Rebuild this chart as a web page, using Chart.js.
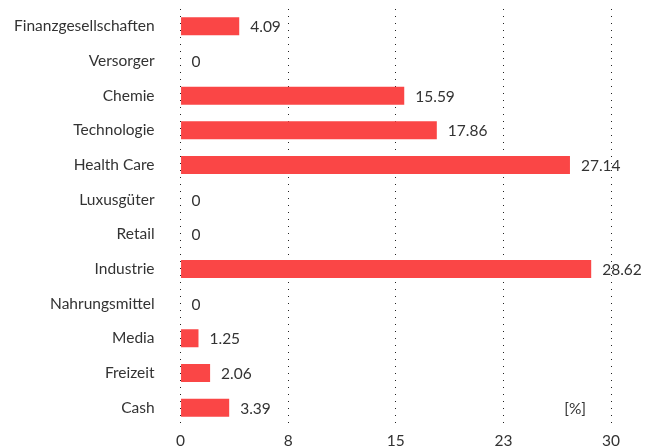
<!DOCTYPE html>
<html>
<head>
<meta charset="utf-8">
<script src="https://cdn.jsdelivr.net/npm/chart.js@4"></script>
<style>
  html, body { margin: 0; padding: 0; background: #fff; }
  canvas { display: block; }
</style>
</head>
<body>
<canvas id="chartBranchen" width="653" height="448"></canvas>
<script>
const kategorien = ['Finanzgesellschaften', 'Versorger', 'Chemie', 'Technologie', 'Health Care',
    'Luxusgüter', 'Retail', 'Industrie', 'Nahrungsmittel', 'Media', 'Freizeit', 'Cash'];
const anteile = [4.09, 0, 15.59, 17.86, 27.14, 0, 0, 28.62, 0, 1.25, 2.06, 3.39];
const einheit = '[%]';

const schrift = { family: 'Lato, "Open Sans", sans-serif', size: 15.5 };

// Werte rechts neben die Balken schreiben, plus Einheit unten rechts
const wertLabels = {
    id: 'wertLabels',
    afterDatasetsDraw(chart) {
        const ctx = chart.ctx;
        const meta = chart.getDatasetMeta(0);
        ctx.save();
        ctx.font = schrift.size + 'px ' + schrift.family;
        ctx.fillStyle = '#333';
        ctx.textBaseline = 'middle';
        ctx.textAlign = 'left';
        meta.data.forEach((bar, i) => {
            const v = anteile[i];
            ctx.fillText(v === 0 ? '0' : v.toFixed(2), bar.x + 11, bar.y + 1);
        });
        const x = chart.scales.x.getPixelForValue(27.5);
        const y = meta.data[meta.data.length - 1].y;
        ctx.textAlign = 'center';
        ctx.fillText(einheit, x, y + 1);
        ctx.restore();
    }
};

// kein automatischer Rand durch Tick-Padding
const ohneRand = s => {
    s.paddingTop = 0;
    s.paddingBottom = 0;
    s.paddingLeft = 0;
    s.paddingRight = 0;
};

new Chart(document.getElementById('chartBranchen'), {
    type: 'bar',
    data: {
        labels: kategorien,
        datasets: [{
            data: anteile,
            backgroundColor: '#fa4646',
            borderWidth: 0,
            categoryPercentage: 1,
            barPercentage: 0.52
        }]
    },
    options: {
        indexAxis: 'y',
        responsive: false,
        animation: false,
        layout: { padding: { top: 9, right: 42, bottom: 0, left: 14 } },
        plugins: {
            legend: { display: false },
            tooltip: { enabled: false }
        },
        scales: {
            x: {
                min: 0,
                max: 30,
                afterFit: s => { ohneRand(s); s.height = 23; },
                ticks: {
                    stepSize: 7.5,
                    color: '#333',
                    font: schrift,
                    padding: 7,
                    callback: v => Math.round(v)
                },
                grid: { color: '#222', lineWidth: 1, drawTicks: false },
                border: { display: false, dash: [1, 6] }
            },
            y: {
                afterFit: s => { ohneRand(s); s.width -= 26; },
                ticks: { color: '#333', font: schrift, padding: 26 },
                grid: { display: false, drawTicks: false },
                border: { display: false }
            }
        }
    },
    plugins: [wertLabels]
});
</script>
</body>
</html>
